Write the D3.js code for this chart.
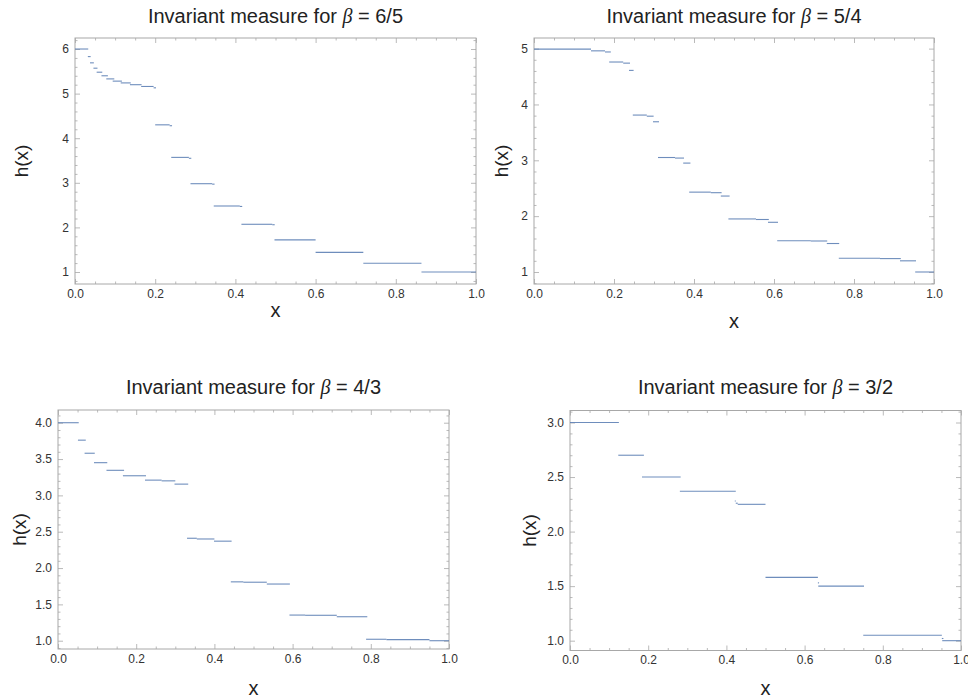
<!DOCTYPE html>
<html>
<head>
<meta charset="utf-8">
<script src="https://cdn.jsdelivr.net/npm/d3@7"></script>
<style>
  body { margin: 0; background: #fff; }
  text { font-family: "Liberation Sans", Arial, sans-serif; }
</style>
</head>
<body>
<svg id="chart" width="968" height="699"></svg>
<script>
// each step: [x start, x end, h(x)]
var steps65 = [
  [0.000, 0.033, 6.00], [0.032, 0.039, 5.83], [0.0375, 0.047, 5.69], [0.046, 0.056, 5.57],
  [0.054, 0.068, 5.48], [0.066, 0.082, 5.40], [0.078, 0.098, 5.33], [0.094, 0.117, 5.28],
  [0.114, 0.139, 5.24], [0.137, 0.166, 5.20], [0.165, 0.196, 5.16], [0.196, 0.202, 5.13],
  [0.200, 0.236, 4.30], [0.236, 0.242, 4.28], [0.240, 0.284, 3.57], [0.284, 0.290, 3.55],
  [0.288, 0.342, 2.98], [0.342, 0.348, 2.97], [0.346, 0.411, 2.48], [0.411, 0.417, 2.47],
  [0.415, 0.492, 2.07], [0.492, 0.498, 2.06], [0.4975, 0.600, 1.72], [0.600, 0.719, 1.44],
  [0.719, 0.864, 1.195], [0.864, 1.000, 1.00]
];
var steps54 = [
  [0.000, 0.1425, 4.99], [0.1425, 0.1775, 4.96], [0.1775, 0.192, 4.94],
  [0.188, 0.223, 4.76], [0.223, 0.240, 4.74], [0.2375, 0.249, 4.61],
  [0.247, 0.282, 3.81], [0.282, 0.299, 3.79], [0.2975, 0.3125, 3.69],
  [0.310, 0.3525, 3.05], [0.3525, 0.375, 3.04], [0.373, 0.391, 2.95],
  [0.388, 0.442, 2.43], [0.442, 0.469, 2.42], [0.467, 0.489, 2.36],
  [0.486, 0.555, 1.95], [0.555, 0.587, 1.94], [0.585, 0.610, 1.89],
  [0.608, 0.692, 1.56], [0.692, 0.733, 1.555], [0.732, 0.763, 1.51],
  [0.762, 0.865, 1.245], [0.865, 0.917, 1.24], [0.915, 0.955, 1.20],
  [0.953, 1.000, 1.00]
];
var steps43 = [
  [0.000, 0.053, 4.00], [0.051, 0.071, 3.76], [0.068, 0.094, 3.58], [0.092, 0.126, 3.45],
  [0.124, 0.169, 3.345], [0.166, 0.225, 3.27], [0.2225, 0.265, 3.21], [0.265, 0.300, 3.20],
  [0.298, 0.333, 3.155], [0.330, 0.355, 2.41], [0.355, 0.400, 2.40], [0.399, 0.444, 2.37],
  [0.442, 0.474, 1.81], [0.474, 0.534, 1.805], [0.534, 0.593, 1.78], [0.592, 0.632, 1.353],
  [0.632, 0.713, 1.35], [0.713, 0.791, 1.33], [0.788, 0.840, 1.02], [0.840, 0.950, 1.015],
  [0.950, 1.000, 1.00]
];
var steps32 = [
  [0.000, 0.125, 3.00], [0.1235, 0.189, 2.70], [0.184, 0.283, 2.50], [0.281, 0.424, 2.37],
  [0.4215, 0.424, 2.28], [0.424, 0.429, 2.26], [0.429, 0.500, 2.25], [0.500, 0.634, 1.58],
  [0.634, 0.637, 1.53], [0.635, 0.752, 1.50], [0.750, 0.951, 1.05], [0.951, 0.955, 1.02],
  [0.952, 1.000, 1.00]
];
var betas = ["6/5", "5/4", "4/3", "3/2"];
var xMajor = [0, 0.2, 0.4, 0.6, 0.8, 1.0];

var panels = [
  {data: steps65, beta: betas[0], left: 75, right: 476, top: 38, bottom: 284,
    yDom: [0.731, 6.247], yMajor: [1, 2, 3, 4, 5, 6], yMinor: 0.2, yFmt: d3.format("d"),
    titleY: 23, xLabY: 317, hLabX: 21},
  {data: steps54, beta: betas[1], left: 534, right: 934, top: 38, bottom: 284,
    yDom: [0.785, 5.19], yMajor: [1, 2, 3, 4, 5], yMinor: 0.2, yFmt: d3.format("d"),
    titleY: 23, xLabY: 328, hLabX: 501},
  {data: steps43, beta: betas[2], left: 58, right: 449, top: 410, bottom: 649,
    yDom: [0.886, 4.175], yMajor: [1, 1.5, 2, 2.5, 3, 3.5, 4], yMinor: 0.1, yFmt: d3.format(".1f"),
    titleY: 394, xLabY: 695, hLabX: 19},
  {data: steps32, beta: betas[3], left: 570, right: 961, top: 410.5, bottom: 650.5,
    yDom: [0.91, 3.11], yMajor: [1, 1.5, 2, 2.5, 3], yMinor: 0.1, yFmt: d3.format(".1f"),
    titleY: 394, xLabY: 695, hLabX: 529}
];

var svg = d3.select("#chart");

function minors(dom, step, majors) {
  var out = [];
  var lo = Math.ceil(dom[0] / step - 1e-9), hi = Math.floor(dom[1] / step + 1e-9);
  for (var i = lo; i <= hi; i++) {
    var v = +(i * step).toFixed(6);
    if (!majors.some(function(m){ return Math.abs(m - v) < 1e-6; })) out.push(v);
  }
  return out;
}

function styleAxis(g) {
  g.select(".domain").remove();
  g.selectAll(".tick line").attr("stroke", "#a8a8a8").attr("stroke-width", 0.8);
  g.selectAll(".tick text").attr("fill", "#333").attr("font-size", 12)
    .attr("font-family", "Liberation Sans, Arial, sans-serif");
}

panels.forEach(function(p) {
  var w = p.right - p.left, h = p.bottom - p.top;
  var x = d3.scaleLinear().domain([0, 1]).range([p.left, p.right]);
  var y = d3.scaleLinear().domain(p.yDom).range([p.bottom, p.top]);
  var xMinor = minors([0, 1], 0.05, xMajor);
  var yMinor = minors(p.yDom, p.yMinor, p.yMajor);

  var g = svg.append("g");

  // axes: ticks pointing inward on all four sides
  g.append("g").attr("transform", "translate(0," + p.bottom + ")")
    .call(d3.axisBottom(x).tickValues(xMajor).tickFormat(d3.format(".1f")).tickSize(-5).tickPadding(5))
    .call(styleAxis);
  g.append("g").attr("transform", "translate(0," + p.bottom + ")")
    .call(d3.axisBottom(x).tickValues(xMinor).tickFormat("").tickSize(-2.5)).call(styleAxis);
  g.append("g").attr("transform", "translate(0," + p.top + ")")
    .call(d3.axisTop(x).tickValues(xMajor).tickFormat("").tickSize(-5)).call(styleAxis);
  g.append("g").attr("transform", "translate(0," + p.top + ")")
    .call(d3.axisTop(x).tickValues(xMinor).tickFormat("").tickSize(-2.5)).call(styleAxis);

  g.append("g").attr("transform", "translate(" + p.left + ",0)")
    .call(d3.axisLeft(y).tickValues(p.yMajor).tickFormat(p.yFmt).tickSize(-5).tickPadding(6))
    .call(styleAxis);
  g.append("g").attr("transform", "translate(" + p.left + ",0)")
    .call(d3.axisLeft(y).tickValues(yMinor).tickFormat("").tickSize(-2.5)).call(styleAxis);
  g.append("g").attr("transform", "translate(" + p.right + ",0)")
    .call(d3.axisRight(y).tickValues(p.yMajor).tickFormat("").tickSize(-5)).call(styleAxis);
  g.append("g").attr("transform", "translate(" + p.right + ",0)")
    .call(d3.axisRight(y).tickValues(yMinor).tickFormat("").tickSize(-2.5)).call(styleAxis);

  // frame
  g.append("rect").attr("x", p.left).attr("y", p.top).attr("width", w).attr("height", h)
    .attr("fill", "none").attr("stroke", "#a8a8a8").attr("stroke-width", 1);

  // the step pieces
  g.selectAll(".seg").data(p.data).enter().append("line")
    .attr("class", "seg")
    .attr("x1", function(d){ return x(d[0]); })
    .attr("x2", function(d){ return x(d[1]); })
    .attr("y1", function(d){ return y(d[2]); })
    .attr("y2", function(d){ return y(d[2]); })
    .attr("stroke", "#5E81B5").attr("stroke-width", 1.1).attr("stroke-opacity", 0.9);

  // title
  var t = g.append("text").attr("x", (p.left + p.right) / 2).attr("y", p.titleY)
    .attr("text-anchor", "middle").attr("font-size", 20).attr("fill", "#222");
  t.append("tspan").text("Invariant measure for ");
  t.append("tspan").attr("font-style", "italic").attr("font-family", "Liberation Serif, serif").text("\u03b2");
  t.append("tspan").text(" = " + p.beta);

  // axis labels
  g.append("text").attr("x", (p.left + p.right) / 2).attr("y", p.xLabY)
    .attr("text-anchor", "middle").attr("font-size", 20).attr("fill", "#222").text("x");
  g.append("text")
    .attr("transform", "translate(" + p.hLabX + "," + ((p.top + p.bottom) / 2) + ") rotate(-90)")
    .attr("text-anchor", "middle").attr("dominant-baseline", "central")
    .attr("font-size", 19).attr("fill", "#222").text("h(x)");
});
</script>
</body>
</html>
